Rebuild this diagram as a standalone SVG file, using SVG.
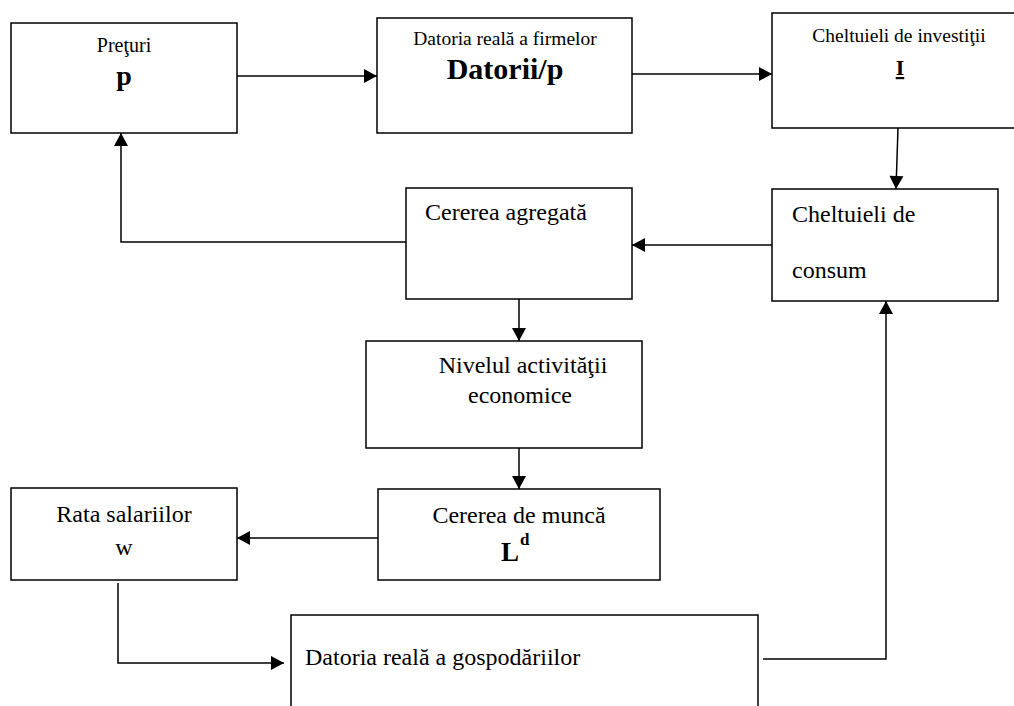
<svg xmlns="http://www.w3.org/2000/svg" width="1014" height="706" viewBox="0 0 1014 706">
  <style>
    .box { fill: #fff; stroke: #000; stroke-width: 1.5; }
    .link { fill: none; stroke: #000; stroke-width: 1.5; }
    text { font-family: "Liberation Serif", "Times New Roman", serif; fill: #000; }
    .t24 { font-size: 24px; }
    .c { text-anchor: middle; }
    .b { font-weight: bold; }
  </style>
  <defs>
    <marker id="arrow" markerUnits="userSpaceOnUse" markerWidth="16" markerHeight="16" refX="14" refY="8" orient="auto">
      <path d="M1,1 L14,8 L1,15 Z" fill="#000"/>
    </marker>
  </defs>

  <rect width="1014" height="706" fill="#fff"/>

  <!-- connectors -->
  <g id="connectors">
    <line class="link" x1="237" y1="76" x2="377" y2="76" marker-end="url(#arrow)"/>
    <line class="link" x1="632" y1="74" x2="772" y2="74" marker-end="url(#arrow)"/>
    <line class="link" x1="898" y1="128" x2="896" y2="189" marker-end="url(#arrow)"/>
    <line class="link" x1="772" y1="245" x2="632" y2="245" marker-end="url(#arrow)"/>
    <polyline class="link" points="406,242 121,242 121,133" marker-end="url(#arrow)"/>
    <line class="link" x1="519" y1="299" x2="519" y2="341" marker-end="url(#arrow)"/>
    <line class="link" x1="519" y1="448" x2="519" y2="489" marker-end="url(#arrow)"/>
    <line class="link" x1="378" y1="538" x2="237" y2="538" marker-end="url(#arrow)"/>
    <polyline class="link" points="118,583 118,663 284,663" marker-end="url(#arrow)"/>
    <polyline class="link" points="763,659 886,659 886,301" marker-end="url(#arrow)"/>
  </g>

  <!-- nodes -->
  <g id="preturi">
    <rect class="box" x="11" y="23" width="226" height="110"/>
    <text class="c" x="124" y="52" font-size="20">Preţuri</text>
    <text class="c b" x="124" y="85" font-size="28">p</text>
  </g>

  <g id="datoria-firmelor">
    <rect class="box" x="377" y="18" width="255" height="115"/>
    <text class="c" x="505" y="45" font-size="19.5">Datoria reală a firmelor</text>
    <text class="c b" x="505" y="79" font-size="30">Datorii/p</text>
  </g>

  <g id="investitii">
    <rect class="box" x="772" y="13" width="260" height="115"/>
    <text class="c" x="899" y="42" font-size="19.5">Cheltuieli de investiţii</text>
    <text class="c b" x="900" y="75" font-size="22" text-decoration="underline">I</text>
  </g>

  <g id="consum">
    <rect class="box" x="772" y="189" width="226" height="112"/>
    <text class="t24" x="792" y="222">Cheltuieli de</text>
    <text class="t24" x="792" y="278">consum</text>
  </g>

  <g id="cererea-agregata">
    <rect class="box" x="406" y="188" width="226" height="111"/>
    <text class="t24" x="425" y="220">Cererea agregată</text>
  </g>

  <g id="nivelul-activitatii">
    <rect class="box" x="366" y="341" width="276" height="107"/>
    <text class="t24 c" x="523" y="373">Nivelul activităţii</text>
    <text class="t24 c" x="520" y="403">economice</text>
  </g>

  <g id="cererea-munca">
    <rect class="box" x="378" y="489" width="282" height="91"/>
    <text class="t24 c" x="519" y="523">Cererea de muncă</text>
    <text class="b" x="501" y="561" font-size="27">L<tspan font-size="17" dx="1" dy="-16">d</tspan></text>
  </g>

  <g id="rata-salariilor">
    <rect class="box" x="11" y="488" width="226" height="92"/>
    <text class="t24 c" x="124" y="522">Rata salariilor</text>
    <text class="t24 c" x="124" y="555">w</text>
  </g>

  <g id="datoria-gospodariilor">
    <rect class="box" x="291" y="615" width="467" height="110"/>
    <text class="t24" x="305" y="665">Datoria reală a gospodăriilor</text>
  </g>
</svg>
